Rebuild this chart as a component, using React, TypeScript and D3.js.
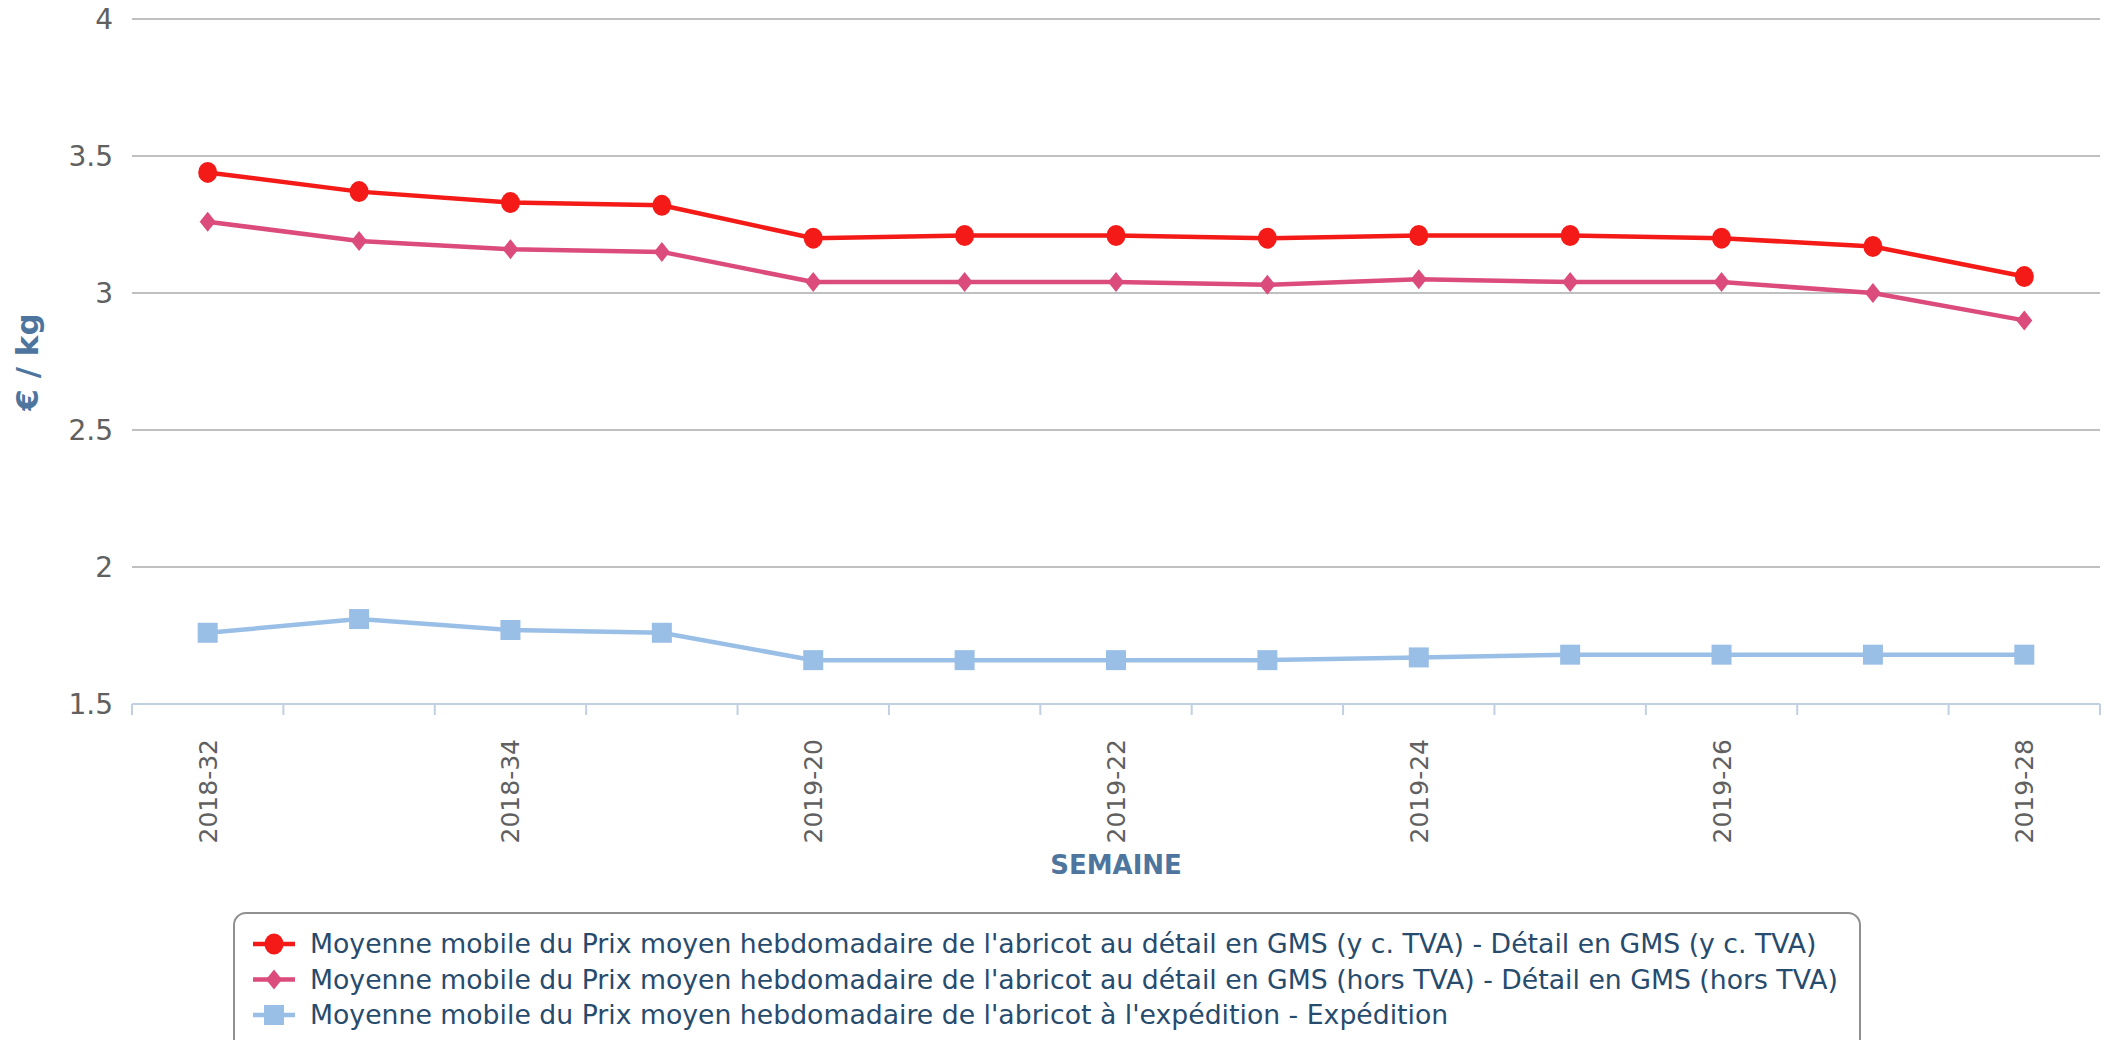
import React from 'react'
import * as d3 from 'd3'

const weeks = [
  '2018-32', '2018-33', '2018-34', '2018-35', '2019-20', '2019-21', '2019-22',
  '2019-23', '2019-24', '2019-25', '2019-26', '2019-27', '2019-28',
]
const detailTTC = [3.44, 3.37, 3.33, 3.32, 3.2, 3.21, 3.21, 3.2, 3.21, 3.21, 3.2, 3.17, 3.06]
const detailHT = [3.26, 3.19, 3.16, 3.15, 3.04, 3.04, 3.04, 3.03, 3.05, 3.04, 3.04, 3.0, 2.9]
const expedition = [1.76, 1.81, 1.77, 1.76, 1.66, 1.66, 1.66, 1.66, 1.67, 1.68, 1.68, 1.68, 1.68]
const yTicks = [1.5, 2, 2.5, 3, 3.5, 4]
const seriesNames = [
  "Moyenne mobile du Prix moyen hebdomadaire de l'abricot au détail en GMS (y c. TVA) - Détail en GMS (y c. TVA)",
  "Moyenne mobile du Prix moyen hebdomadaire de l'abricot au détail en GMS (hors TVA) - Détail en GMS (hors TVA)",
  "Moyenne mobile du Prix moyen hebdomadaire de l'abricot à l'expédition - Expédition",
]

const W = 2114
const H = 1040
const FONT = '"DejaVu Sans", sans-serif'

const series = [
  { name: seriesNames[0], values: detailTTC, color: '#f41a17', symbol: 'circle' },
  { name: seriesNames[1], values: detailHT, color: '#db4b7b', symbol: 'diamond' },
  { name: seriesNames[2], values: expedition, color: '#9abfe6', symbol: 'square' },
]

function Marker({ symbol, x, y, color }) {
  if (symbol === 'circle') return <ellipse cx={x} cy={y} rx={9.5} ry={10.5} fill={color} />
  if (symbol === 'diamond')
    return <path d={`M${x},${y - 10}L${x + 8},${y}L${x},${y + 10}L${x - 8},${y}Z`} fill={color} />
  return <rect x={x - 10} y={y - 10} width={20} height={20} fill={color} />
}

export default function App() {
  const left = 132
  const right = 2100
  const x = d3.scaleBand().domain(weeks).range([left, right])
  const y = d3.scaleLinear().domain([1.5, 4]).range([704, 19])
  const cx = (w) => x(w) + x.bandwidth() / 2
  const line = d3
    .line<number>()
    .x((d, i) => cx(weeks[i]))
    .y((d) => y(d))

  // tick marks sit on the band edges
  const bounds = weeks.map((w) => x(w)).concat([right])

  return (
    <svg
      width={W}
      height={H}
      style={{ position: 'absolute', left: 0, top: 0, background: '#fff' }}
      fontFamily={FONT}
    >
      {/* grid */}
      {yTicks.slice(1).map((t) => (
        <line key={t} x1={left} x2={right} y1={y(t)} y2={y(t)} stroke="#c0c0c0" strokeWidth={2} />
      ))}
      {yTicks.map((t) => (
        <text key={t} x={113} y={y(t)} dy="0.35em" textAnchor="end" fontSize={28} fill="#606060">
          {t}
        </text>
      ))}
      {/* x axis */}
      <line x1={left} x2={right} y1={y(1.5)} y2={y(1.5)} stroke="#c0d0e0" strokeWidth={2} />
      {bounds.map((b, i) => (
        <line key={i} x1={b} x2={b} y1={y(1.5)} y2={y(1.5) + 11} stroke="#c0d0e0" strokeWidth={2} />
      ))}
      {weeks.map((w, i) =>
        i % 2 === 0 ? (
          <text
            key={w}
            transform={`translate(${cx(w) + 9},${739}) rotate(-90)`}
            textAnchor="end"
            fontSize={25}
            fill="#606060"
          >
            {w}
          </text>
        ) : null
      )}
      <text x={(left + right) / 2} y={874} textAnchor="middle" fontSize={26} fontWeight="bold" fill="#4d759e">
        SEMAINE
      </text>
      <text
        transform={`translate(38,362) rotate(-90)`}
        textAnchor="middle"
        fontSize={31}
        fontWeight="bold"
        fill="#4d759e"
      >
        € / kg
      </text>

      {/* series */}
      {series.map((s) => (
        <g key={s.name}>
          <path d={line(s.values)} fill="none" stroke={s.color} strokeWidth={4.5} />
          {s.values.map((v, i) => (
            <Marker key={i} symbol={s.symbol} x={cx(weeks[i])} y={y(v)} color={s.color} />
          ))}
        </g>
      ))}

      {/* legend */}
      <rect x={234} y={913} width={1626} height={150} rx={12} fill="#fff" stroke="#909090" strokeWidth={2} />
      {series.map((s, i) => {
        const ly = 944 + i * 35.5
        return (
          <g key={s.name}>
            <line x1={253} x2={295} y1={ly} y2={ly} stroke={s.color} strokeWidth={4.5} />
            <Marker symbol={s.symbol} x={274} y={ly} color={s.color} />
            <text x={310} y={ly} dy="0.35em" fontSize={26.7} fill="#274b6d">
              {s.name}
            </text>
          </g>
        )
      })}
    </svg>
  )
}
